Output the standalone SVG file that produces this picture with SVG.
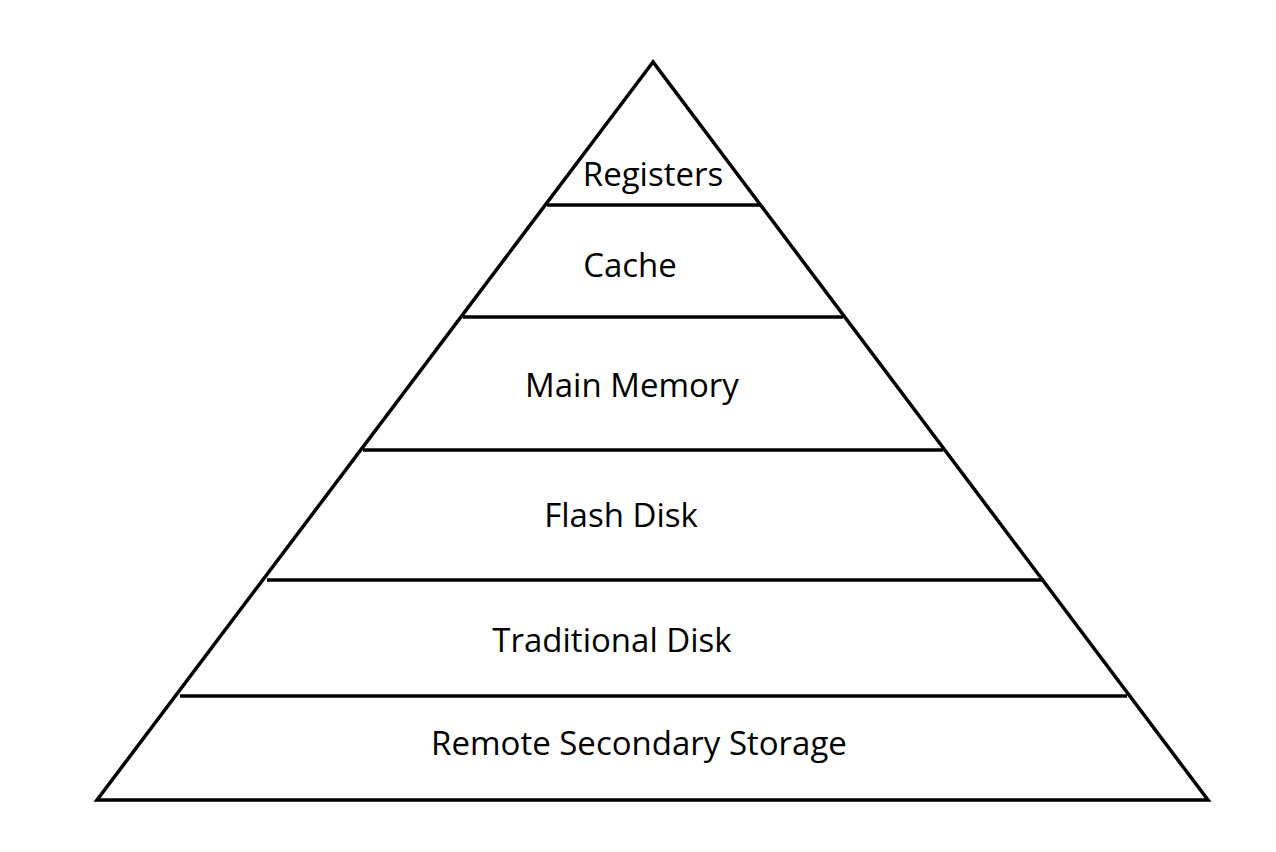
<svg xmlns="http://www.w3.org/2000/svg" width="1276" height="852" viewBox="0 0 1276 852">
<style>
.ln{stroke:#000;stroke-width:3.5;fill:none}
.lb{font-family:"Open Sans",Lato,"Liberation Sans",sans-serif;font-size:33px;fill:#000;text-anchor:middle}
</style>
<rect width="1276" height="852" fill="#fff"/>
<g id="pyramid">
<polygon class="ln" points="653,62 97,800 1208,800" stroke-linejoin="miter"/>
</g>
<g id="connectors">
<line class="ln" x1="547" y1="205" x2="760" y2="205"/>
<line class="ln" x1="463" y1="317" x2="843" y2="317"/>
<line class="ln" x1="363" y1="450" x2="943" y2="450"/>
<line class="ln" x1="267" y1="580" x2="1044" y2="580"/>
<line class="ln" x1="180" y1="696" x2="1127" y2="696"/>
</g>
<g id="registers"><text class="lb" x="653" y="186">Registers</text></g>
<g id="cache"><text class="lb" x="630" y="277">Cache</text></g>
<g id="main-memory"><text class="lb" x="632" y="397">Main Memory</text></g>
<g id="flash-disk"><text class="lb" x="621" y="527">Flash Disk</text></g>
<g id="traditional-disk"><text class="lb" x="612" y="652">Traditional Disk</text></g>
<g id="remote-secondary-storage"><text class="lb" x="639" y="755">Remote Secondary Storage</text></g>
</svg>
